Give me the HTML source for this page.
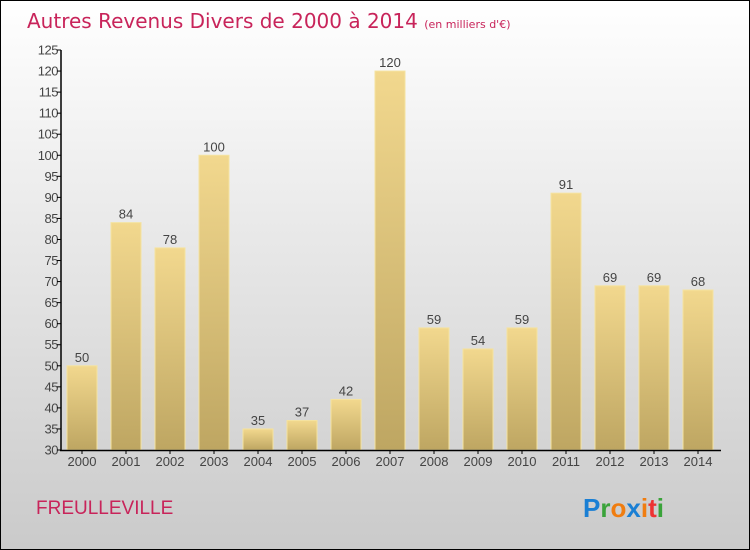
<!DOCTYPE html>
<html><head><meta charset="utf-8"><style>
body{margin:0;width:750px;height:550px;overflow:hidden}
svg{display:block;font-family:"DejaVu Sans","Liberation Sans",sans-serif}
</style></head><body>
<svg id="c" width="750" height="550">
<defs>
<linearGradient id="bg" x1="0" y1="0" x2="0" y2="1"><stop offset="0" stop-color="#ffffff"/><stop offset="1" stop-color="#cacaca"/></linearGradient>
<linearGradient id="bar" x1="0" y1="0" x2="0" y2="1"><stop offset="0" stop-color="#f2d88e"/><stop offset="1" stop-color="#bea662"/></linearGradient>
</defs>
<rect x="0.5" y="0.5" width="749" height="549" fill="url(#bg)" stroke="#000"/>
<text x="27" y="28" font-size="20" fill="#c8245a">Autres Revenus Divers de 2000 à 2014 <tspan font-size="11">(en milliers d'€)</tspan></text>
<text x="36" y="514" font-size="19" fill="#c8245a" font-family="Liberation Sans,sans-serif">FREULLEVILLE</text>
<g font-size="26" font-weight="bold" font-family="Liberation Sans,sans-serif">
<text x="583" y="517"><tspan fill="#1a7fd4">P</tspan><tspan fill="#3aa33a">r</tspan><tspan fill="#f07d10">o</tspan><tspan fill="#1a7fd4">x</tspan><tspan fill="#f07d10">i</tspan><tspan fill="#e33">t</tspan><tspan fill="#3aa33a">i</tspan></text>
</g>
<g id="plot" font-family="Liberation Sans,sans-serif"></g>
</svg>
<script>
const years=["2000","2001","2002","2003","2004","2005","2006","2007","2008","2009","2010","2011","2012","2013","2014"];
const values=[50,84,78,100,35,37,42,120,59,54,59,91,69,69,68];
const yTicks=[30,35,40,45,50,55,60,65,70,75,80,85,90,95,100,105,110,115,120,125];
const ns="http://www.w3.org/2000/svg";
const g=document.getElementById('plot');
const y=v=>450-(v-30)*400/95;
const x=i=>82+i*44;
function mk(t,a,txt){const e=document.createElementNS(ns,t);for(const k in a)e.setAttribute(k,a[k]);if(txt!==undefined)e.textContent=txt;g.appendChild(e);return e;}
values.forEach((v,i)=>{
 const r=mk('rect',{x:x(i)-15,y:y(v),width:30,height:450-y(v),fill:'url(#bar)',stroke:'#f5e3a0','stroke-width':1});
 
 
 const l=mk('text',{x:x(i),y:y(v)-4,'font-size':13,fill:'#444','text-anchor':'middle'},String(v));
 
 
 const t=mk('text',{x:x(i),y:466,'font-size':13,fill:'#444','text-anchor':'middle'},years[i]);
 
 
 const tk=mk('line',{x1:x(i),x2:x(i),y1:450,y2:454,stroke:'#000'});
 
 
});
yTicks.forEach(v=>{
 const t=mk('text',{x:58,y:y(v)+4.5,'font-size':13,fill:'#444','text-anchor':'end','letter-spacing':'-0.5'},String(v));
 
 
 const tk=mk('line',{x1:57,x2:61,y1:y(v),y2:y(v),stroke:'#000'});
 
 
});
const ya=mk('line',{x1:61,x2:61,y1:y(125),y2:451,stroke:'#000','stroke-width':1.5});


const xa=mk('line',{x1:60,x2:721,y1:450.5,y2:450.5,stroke:'#000','stroke-width':1.5});


</script>
</body></html>
